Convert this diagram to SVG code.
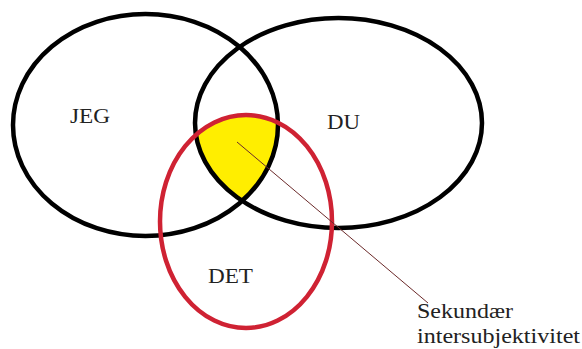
<svg xmlns="http://www.w3.org/2000/svg" width="582" height="349" viewBox="0 0 582 349">
<style>
.blk{fill:none;stroke:#000;stroke-width:4.5}
.red{fill:none;stroke:#cf2233;stroke-width:4.5}
.lbl{font-family:"Liberation Serif",serif;font-size:21px;fill:#222}
</style>
<defs>
<clipPath id="cJ"><ellipse cx="145.5" cy="125" rx="132.5" ry="111"/></clipPath>
<clipPath id="cD"><ellipse cx="338.5" cy="123" rx="143.5" ry="105"/></clipPath>
</defs>
<rect width="582" height="349" fill="#fff"/>
<g id="overlap">
<g clip-path="url(#cD)"><ellipse clip-path="url(#cJ)" cx="246" cy="221.5" rx="86" ry="106.5" fill="#ffee00"/></g>
</g>
<g id="jeg">
<ellipse class="blk" cx="145.5" cy="125" rx="132.5" ry="111"/>
<text class="lbl" x="70" y="123" textLength="40" lengthAdjust="spacingAndGlyphs">JEG</text>
</g>
<g id="du">
<ellipse class="blk" cx="338.5" cy="123" rx="143.5" ry="105"/>
<text class="lbl" x="327" y="129" textLength="33" lengthAdjust="spacingAndGlyphs">DU</text>
</g>
<g id="det">
<ellipse class="red" cx="246" cy="221.5" rx="86" ry="106.5"/>
<text class="lbl" x="208" y="283" textLength="45" lengthAdjust="spacingAndGlyphs">DET</text>
</g>
<g id="connectors">
<line x1="237" y1="142" x2="428" y2="303" stroke="#6b2a2a" stroke-width="1"/>
</g>
<g id="label">
<text class="lbl" x="417" y="318" textLength="96" lengthAdjust="spacingAndGlyphs">Sekundær</text>
<text class="lbl" x="417" y="343" textLength="163" lengthAdjust="spacingAndGlyphs">intersubjektivitet</text>
</g>
</svg>
